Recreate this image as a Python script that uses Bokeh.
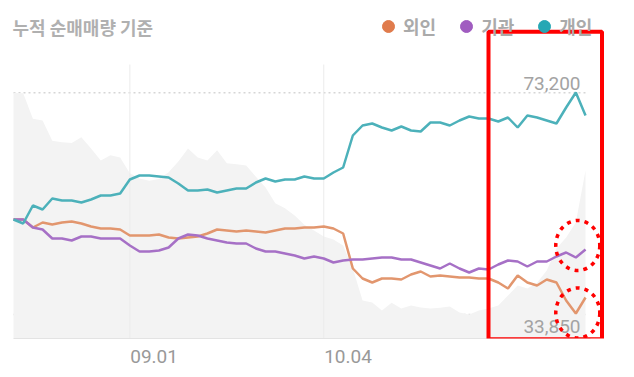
from bokeh.plotting import figure
from bokeh.models import (Range1d, FixedTicker, Label, Legend, LegendItem,
                          BoxAnnotation)
from bokeh.core.properties import value
from bokeh.embed import file_html
from bokeh.resources import INLINE

# ---- data (cumulative net buying, thousand shares; daily, 60 trading days) ----
foreign = [0, 0, -80, -30, -50, -30, -20, -40, -70, -90,
           -90, -100, -160, -160, -160, -150, -180, -190, -180, -170,
           -140, -100, -110, -120, -110, -120, -130, -110, -90, -90,
           -80, -80, -70, -90, -140, -490, -590, -630, -590, -590,
           -600, -550, -520, -570, -560, -570, -580, -580, -590, -590,
           -630, -690, -560, -630, -660, -600, -630, -810, -940, -780]
institution = [0, 0, -80, -100, -190, -190, -210, -170, -170, -190,
               -190, -190, -260, -320, -320, -310, -280, -190, -150, -160,
               -190, -210, -230, -240, -240, -290, -320, -320, -340, -360,
               -390, -370, -390, -430, -410, -400, -400, -390, -380, -380,
               -400, -400, -430, -460, -490, -440, -490, -530, -490, -500,
               -450, -410, -420, -470, -420, -420, -370, -330, -380, -300]
individual = [0, -40, 140, 100, 210, 190, 190, 170, 200, 240,
              240, 260, 400, 440, 440, 430, 420, 360, 290, 290,
              300, 270, 290, 310, 310, 370, 410, 380, 400, 400,
              430, 410, 410, 470, 520, 840, 940, 960, 920, 890,
              930, 890, 880, 970, 970, 940, 990, 1030, 1010, 1010,
              980, 1020, 920, 1040, 1020, 990, 960, 1120, 1270, 1040]
price = [73200, 73100, 68600, 68300, 64700, 64400, 64300, 65300, 63300, 61200,
         62100, 61700, 58900, 58000, 57600, 57900, 59100, 61000, 63300, 61700,
         61200, 63000, 60700, 60500, 60300, 58300, 56400, 53600, 52700, 51400,
         49800, 48750, 47700, 47150, 46100, 42000, 36350, 36000, 34550, 35950,
         34900, 35450, 35100, 34900, 35050, 35250, 34200, 33850, 34550, 34900,
         35450, 37200, 39000, 38450, 39500, 41650, 45550, 47500, 50200, 59400]
days = list(range(len(price)))
tick_days = [12, 32]
tick_labels = ["09.01", "10.04"]
series_names = ["외인", "기관", "개인"]
title_text = "누적 순매매량 기준"

price_hi = max(price)
price_lo = min(price)

# ---- styles ----
C_FOREIGN, C_INST, C_INDIV = "#e2966e", "#a670c6", "#4cb1ba"
C_FOREIGN_DOT, C_INST_DOT, C_INDIV_DOT = "#e07b4c", "#a05cc0", "#26a7b4"
GRAY_TXT = "#a3a3a3"

p = figure(width=634, height=377, output_backend="svg", toolbar_location=None,
           title=None, x_range=Range1d(-1.341, 64.05), y_range=Range1d(-1190, 2190),
           y_axis_location=None, min_border_left=0, min_border_right=0,
           min_border_top=0, min_border_bottom=39, outline_line_color=None,
           background_fill_color="white", border_fill_color="white")
p.extra_y_ranges = {"price": Range1d(29590, 89580)}
p.grid.visible = False

# max / min price guide lines
p.segment(x0=[days[0]] * 2, x1=[days[-1]] * 2, y0=[price_hi, price_lo],
          y1=[price_hi, price_lo], y_range_name="price",
          line_color="#d6d6d6", line_width=1.5, line_dash="2 3")

# price area
p.varea(x=days, y1=[29590] * len(days), y2=price, y_range_name="price",
        fill_color="#f3f3f3")

# vertical grid lines at labelled dates
p.segment(x0=tick_days, x1=tick_days, y0=[-1190] * len(tick_days),
          y1=[1550] * len(tick_days), line_color="#ebebeb", line_width=1)

# series lines
p.line(days, foreign, line_color=C_FOREIGN, line_width=2.5)
p.line(days, institution, line_color=C_INST, line_width=2.5)
p.line(days, individual, line_color=C_INDIV, line_width=2.5)

# price hi/lo labels
p.text(x=[days[-1]], y=[price_hi], text=["{:,}".format(price_hi)],
       y_range_name="price", text_align="right", text_baseline="alphabetic",
       x_offset=-5, y_offset=-9, text_font=value("Roboto"),
       text_font_size="19px", text_color=GRAY_TXT)
p.text(x=[days[-1]], y=[price_lo], text=["{:,}".format(price_lo)],
       y_range_name="price", text_align="right", text_baseline="alphabetic",
       x_offset=-5, y_offset=12, text_font=value("Roboto"),
       text_font_size="19px", text_color=GRAY_TXT)

# x axis: labels sit just right of their grid line
label_pos = [d + 2.5 for d in tick_days]
p.xaxis.ticker = FixedTicker(ticks=label_pos)
p.xaxis.major_label_overrides = {pos: lab for pos, lab in zip(label_pos, tick_labels)}
p.xaxis.bounds = (days[0], days[-1] + 0.5)
p.xaxis.axis_line_color = "#e3e3e3"
p.xaxis.axis_line_width = 1
p.xaxis.major_tick_line_color = None
p.xaxis.minor_tick_line_color = None
p.xaxis.major_label_standoff = 5
p.xaxis.major_label_text_font = "Roboto"
p.xaxis.major_label_text_font_size = "19px"
p.xaxis.major_label_text_color = "#999999"

# title
p.add_layout(Label(x=12, y=311.5, x_units="screen", y_units="screen",
                   text=title_text, text_font="Noto Sans CJK KR",
                   text_font_size="18px", text_font_style="bold",
                   text_color="#b0b0b0",
                   text_baseline="middle", text_align="left"))

# legend (dot markers; zero-size points so only the legend shows them)
r_f = p.scatter(x=[days[0]], y=[foreign[0]], size=0, marker="circle",
                fill_color=C_FOREIGN_DOT, line_color=C_FOREIGN_DOT)
r_i = p.scatter(x=[days[0]], y=[institution[0]], size=0, marker="circle",
                fill_color=C_INST_DOT, line_color=C_INST_DOT)
r_d = p.scatter(x=[days[0]], y=[individual[0]], size=0, marker="circle",
                fill_color=C_INDIV_DOT, line_color=C_INDIV_DOT)
legend = Legend(items=[LegendItem(label=series_names[0], renderers=[r_f]),
                       LegendItem(label=series_names[1], renderers=[r_i]),
                       LegendItem(label=series_names[2], renderers=[r_d])],
                orientation="horizontal", location=(373, 297),
                glyph_width=30, glyph_height=30, label_standoff=0, spacing=15,
                padding=0, margin=0, border_line_color=None,
                background_fill_alpha=0, label_text_font="Noto Sans CJK KR",
                label_text_font_size="18px", label_text_font_style="bold",
                label_text_color="#aaaaaa")
p.add_layout(legend)

# red highlight marks
p.add_layout(BoxAnnotation(left=488, right=601.5, top=306.7, bottom=-0.7,
                           left_units="screen", right_units="screen",
                           top_units="screen", bottom_units="screen",
                           fill_alpha=0, fill_color=None, line_color="#ff0000",
                           line_alpha=1.0, line_width=4))
p.ellipse(x=[58.2, 58.2], y=[-260, -935], width=44, height=50,
          width_units="screen", height_units="screen", fill_color=None,
          line_color="#ff0000", line_width=3.5, line_dash="4 5")

open("out.html", "w").write(file_html(p, INLINE))
